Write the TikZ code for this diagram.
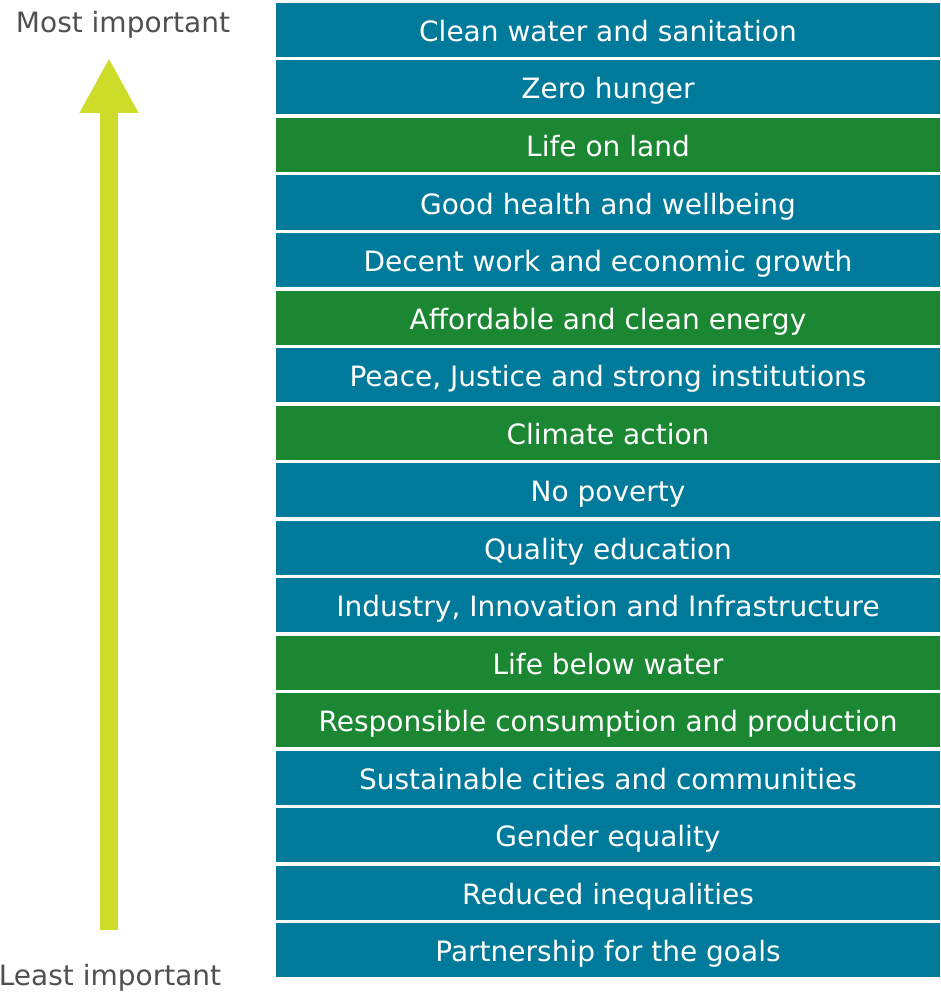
\documentclass[tikz,border=0pt]{standalone}
\usepackage{fontspec}
\setmainfont{DejaVu Sans}
\usetikzlibrary{arrows.meta}
\definecolor{goalblue}{RGB}{0,122,155}
\definecolor{goalgreen}{RGB}{27,135,50}
\definecolor{arrowlime}{RGB}{205,220,40}
\definecolor{labelgray}{RGB}{80,80,80}

\begin{document}
\begin{tikzpicture}[x=1pt, y={(0pt,-1pt)},
  goal/.style={minimum width=664pt, minimum height=54pt, inner sep=0pt,
    text height=25pt, text depth=2pt,
    text=white, font=\fontsize{28}{30}\selectfont},
  rank/.style={text=labelgray, anchor=base, inner sep=0pt,
    font=\fontsize{28}{30}\selectfont}]
  \useasboundingbox (0,0) rectangle (940,995);
  % goals, most important first
  \foreach \i/\col/\txt in {
      0/goalblue/Clean water and sanitation,
      1/goalblue/Zero hunger,
      2/goalgreen/Life on land,
      3/goalblue/Good health and wellbeing,
      4/goalblue/Decent work and economic growth,
      5/goalgreen/Affordable and clean energy,
      6/goalblue/{Peace, Justice and strong institutions},
      7/goalgreen/Climate action,
      8/goalblue/No poverty,
      9/goalblue/Quality education,
      10/goalblue/{Industry, Innovation and Infrastructure},
      11/goalgreen/Life below water,
      12/goalgreen/Responsible consumption and production,
      13/goalblue/Sustainable cities and communities,
      14/goalblue/Gender equality,
      15/goalblue/Reduced inequalities,
      16/goalblue/Partnership for the goals} {
    \node[goal, fill=\col] (g\i) at (608, 30+57.5*\i) {\txt};
  }
  % ranking arrow
  \node[rank] (most) at (123,33) {Most important};
  \node[rank] (least) at (110,985) {Least important};
  \coordinate (low) at (109,930);
  \coordinate (high) at (109,58);
  \draw[arrowlime, line width=18pt, -{Triangle[width=55pt, length=55pt]}] (low) -- (high);
\end{tikzpicture}
\end{document}
